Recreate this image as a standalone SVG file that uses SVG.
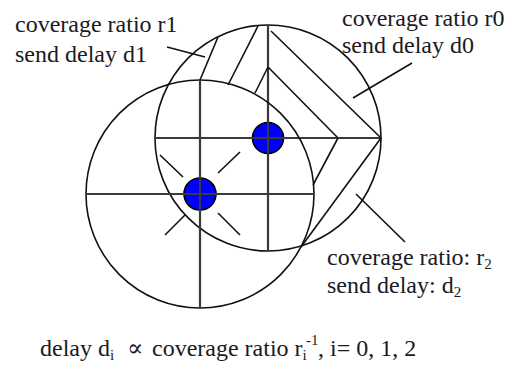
<svg xmlns="http://www.w3.org/2000/svg" width="521" height="366" viewBox="0 0 521 366">
<style>
.c{fill:none;stroke:#111;stroke-width:1.6}
.x{stroke:#3a3a3a;stroke-width:2.2;fill:none}
.h{stroke:#111;stroke-width:1.6;fill:none}
.dot{fill:#0000ff;stroke:#000;stroke-width:1.6}
text{font-family:'Liberation Serif',Tinos,'Noto Serif','DejaVu Serif',FreeSerif,Times,'Times New Roman',serif;font-size:24px;fill:#1a1a24}
.s{font-size:15px}
</style>
<rect width="521" height="366" fill="#fff"/>
<g id="node0">
<circle class="dot" cx="268" cy="138" r="15.5"/>
<circle class="c" cx="268" cy="138" r="113"/>
<line class="x" x1="155" y1="138" x2="381" y2="138"/>
<line class="x" x1="268" y1="25" x2="268" y2="251"/>
</g>
<g id="node1">
<circle class="dot" cx="200" cy="194" r="16"/>
<circle class="c" cx="200" cy="194" r="114"/>
<line class="x" x1="86" y1="194" x2="314" y2="194"/>
<line class="x" x1="200" y1="80" x2="200" y2="308"/>
<line class="h" x1="183" y1="177" x2="160" y2="155"/>
<line class="h" x1="218" y1="173" x2="240" y2="152"/>
<line class="h" x1="185" y1="215" x2="165" y2="235"/>
<line class="h" x1="218" y1="213" x2="240" y2="235"/>
</g>
<g id="hatching">
<line class="h" x1="271" y1="31" x2="381" y2="138"/>
<line class="h" x1="268" y1="67" x2="338" y2="138"/>
<line class="h" x1="268" y1="67" x2="255" y2="93"/>
<line class="h" x1="338" y1="138" x2="313" y2="185"/>
<line class="h" x1="381" y1="138" x2="301" y2="247"/>
<line class="h" x1="258" y1="26" x2="228" y2="85"/>
<line class="h" x1="218" y1="37" x2="200" y2="80"/>
</g>
<g id="connectors">
<line class="h" x1="167" y1="47" x2="205" y2="57"/>
<line class="h" x1="412" y1="63" x2="353" y2="98"/>
<line class="h" x1="356" y1="194" x2="405" y2="242"/>
</g>
<g id="label-r1">
<text x="15" y="32">coverage ratio r1</text>
<text x="15" y="62">send delay d1</text>
</g>
<g id="label-r0">
<text x="342" y="26">coverage ratio r0</text>
<text x="342" y="53">send delay d0</text>
</g>
<g id="label-r2">
<text x="327" y="265">coverage ratio: r<tspan class="s" dy="4">2</tspan></text>
<text x="327" y="293">send delay: d<tspan class="s" dy="4">2</tspan></text>
</g>
<g id="formula">
<text y="356"><tspan x="40">delay d</tspan><tspan class="s" dy="4">i</tspan><tspan x="127" dy="-4">∝</tspan><tspan x="152">coverage ratio r</tspan><tspan class="s" dy="4">i</tspan><tspan class="s" x="306" dy="-15">-1</tspan><tspan x="318" dy="11">, i= 0, 1, 2</tspan></text>
</g>
</svg>
